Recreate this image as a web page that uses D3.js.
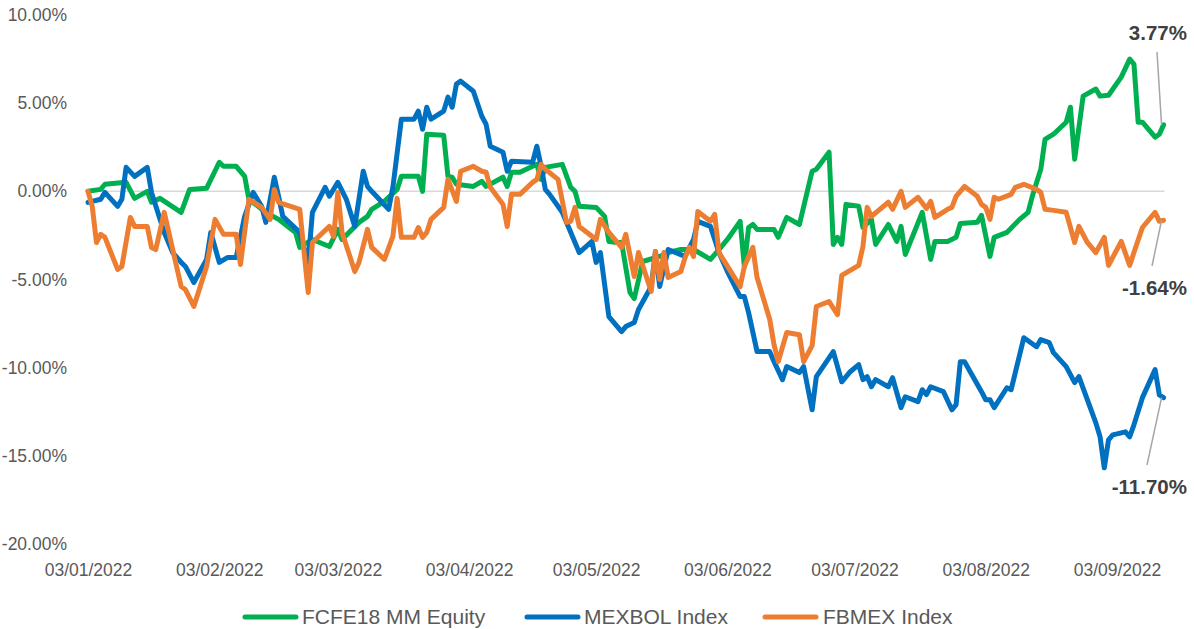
<!DOCTYPE html>
<html>
<head>
<meta charset="utf-8">
<script src="https://cdn.jsdelivr.net/npm/d3@7"></script>
<style>
  html, body { margin: 0; padding: 0; background: #fff; }
  svg { display: block; }
  text { font-family: "Liberation Sans", Arial, sans-serif; }
</style>
</head>
<body>
<svg id="chart" width="1194" height="629"></svg>
<script>
// ---------- DATA (values in %) ----------
const seriesNames = ["FCFE18 MM Equity", "MEXBOL Index", "FBMEX Index"];
const seriesColors = ["#00B050", "#0070C0", "#ED7D31"];
const xTickLabels = ["03/01/2022","03/02/2022","03/03/2022","03/04/2022","03/05/2022","03/06/2022","03/07/2022","03/08/2022","03/09/2022"];
const yTickValues = [10, 5, 0, -5, -10, -15, -20];
const endLabels = ["3.77%", "-11.70%", "-1.64%"];

const fcfeDates = ["01-03","01-06","01-07","01-12","01-14","01-17","01-18","01-20","01-25","01-27","01-31","02-03","02-04","02-07","02-09","02-10","02-14","02-17","02-21","02-22","02-25","03-01","03-03","03-04","03-08","03-10","03-11","03-14","03-17","03-18","03-22","03-23","03-24","03-28","03-29","03-30","03-31","04-04","04-06","04-07","04-11","04-12","04-13","04-15","04-18","04-19","04-20","04-21","04-25","04-27","04-28","04-29","05-03","05-05","05-06","05-08","05-09","05-11","05-12","05-14","05-18","05-20","05-23","05-26","05-30","06-01","06-03","06-06","06-07","06-08","06-09","06-10","06-14","06-15","06-17","06-20","06-23","06-24","06-27","06-28","06-29","06-30","07-01","07-04","07-05","07-07","07-08","07-11","07-13","07-14","07-15","07-19","07-21","07-22","07-25","07-27","07-28","08-01","08-02","08-04","08-05","08-08","08-11","08-13","08-14","08-16","08-17","08-19","08-22","08-23","08-24","08-26","08-29","08-30","09-01","09-04","09-06","09-07","09-08","09-09","09-12","09-13","09-14"];
const fcfeValues = [0.00,0.11,0.40,0.51,-0.40,0.00,-0.62,-0.40,-1.19,0.11,0.17,1.65,1.42,1.42,0.85,-0.45,-1.19,-1.59,-2.33,-3.18,-2.73,-3.13,-2.16,-2.73,-1.76,-1.42,-1.02,-0.57,0.11,0.85,0.85,0.00,3.24,3.18,0.85,0.80,0.40,0.28,0.57,0.28,0.80,0.28,1.08,1.08,1.42,1.53,0.68,1.36,1.53,0.23,0.00,-0.85,-0.91,-1.42,-2.84,-2.90,-2.90,-5.74,-6.08,-3.98,-3.69,-3.47,-3.30,-3.30,-3.86,-3.30,-2.73,-1.70,-4.26,-2.05,-1.88,-2.16,-2.16,-2.61,-1.48,-1.88,1.14,1.25,2.22,-3.01,-2.61,-3.01,-0.74,-0.85,-2.05,-1.59,-3.01,-1.88,-2.84,-1.99,-3.58,-1.19,-3.86,-2.84,-2.84,-2.61,-1.82,-1.76,-1.36,-3.69,-2.61,-2.33,-1.59,-1.19,-0.28,1.25,2.95,3.24,3.92,4.77,1.82,5.40,5.80,5.40,5.45,6.48,7.50,7.22,3.92,3.92,3.07,3.24,3.77];

const mexbolDates = ["01-03","01-06","01-07","01-10","01-11","01-12","01-14","01-17","01-18","01-21","01-23","01-25","01-26","01-28","01-31","02-01","02-03","02-05","02-07","02-09","02-11","02-13","02-14","02-16","02-17","02-18","02-22","02-24","02-25","02-28","03-01","03-03","03-05","03-07","03-09","03-10","03-11","03-15","03-16","03-18","03-21","03-22","03-23","03-24","03-25","03-28","03-29","03-30","03-31","04-01","04-04","04-06","04-07","04-08","04-11","04-12","04-13","04-18","04-19","04-20","04-21","04-22","04-25","04-29","05-02","05-03","05-04","05-06","05-09","05-10","05-12","05-13","05-16","05-17","05-18","05-20","05-24","05-26","05-27","05-30","06-01","06-03","06-06","06-07","06-08","06-10","06-13","06-14","06-16","06-17","06-20","06-21","06-23","06-24","06-28","06-30","07-02","07-04","07-05","07-06","07-07","07-08","07-11","07-12","07-14","07-15","07-18","07-19","07-20","07-21","07-24","07-26","07-27","07-28","07-29","08-02","08-03","08-04","08-05","08-08","08-09","08-12","08-15","08-16","08-18","08-19","08-22","08-24","08-25","08-29","08-30","08-31","09-01","09-02","09-05","09-06","09-07","09-09","09-12","09-13","09-14"];
const mexbolValues = [-0.63,-0.45,-0.06,-0.85,-0.45,1.36,0.85,1.36,-0.06,-2.33,-3.47,-4.03,-4.26,-5.17,-3.86,-2.33,-4.03,-3.75,-3.75,-1.42,-0.06,-0.85,-1.76,0.80,-0.28,-1.42,-2.33,-4.03,-1.19,0.23,-0.28,0.51,-0.45,-1.99,1.14,0.28,0.00,-1.02,0.23,4.09,4.09,4.55,3.52,4.77,4.09,4.55,5.34,4.77,6.08,6.25,5.68,4.26,3.81,2.56,2.22,1.14,1.70,1.65,2.56,1.42,0.11,-0.17,-1.19,-3.47,-2.84,-4.03,-3.47,-7.10,-7.95,-7.67,-7.44,-6.70,-5.40,-3.41,-5.40,-3.30,-3.69,-2.73,-1.70,-1.99,-3.47,-4.55,-5.97,-5.97,-6.88,-9.09,-9.09,-9.66,-10.68,-9.94,-10.28,-9.94,-12.39,-10.51,-9.09,-10.80,-10.23,-9.83,-10.68,-10.51,-11.08,-10.68,-11.08,-10.57,-12.27,-11.65,-11.93,-11.25,-11.53,-11.08,-11.36,-12.39,-12.10,-9.66,-9.66,-11.36,-11.82,-11.82,-12.27,-11.14,-11.25,-8.30,-8.81,-8.41,-8.58,-9.15,-9.94,-10.85,-10.51,-13.13,-13.92,-15.68,-14.09,-13.81,-13.64,-13.92,-13.24,-11.70,-10.11,-11.55,-11.70];

const fbmexDates = ["01-03","01-04","01-05","01-06","01-07","01-10","01-11","01-13","01-14","01-17","01-18","01-19","01-21","01-25","01-26","01-28","01-31","02-02","02-04","02-07","02-08","02-10","02-13","02-15","02-16","02-17","02-22","02-24","02-25","03-01","03-02","03-03","03-04","03-07","03-08","03-10","03-11","03-14","03-16","03-17","03-18","03-21","03-22","03-23","03-24","03-25","03-28","03-29","03-31","04-01","04-04","04-06","04-07","04-08","04-11","04-12","04-13","04-15","04-18","04-19","04-20","04-21","04-24","04-26","04-27","04-28","04-29","05-03","05-04","05-06","05-09","05-10","05-12","05-13","05-16","05-17","05-18","05-19","05-20","05-23","05-24","05-25","05-26","05-27","05-30","05-31","06-01","06-02","06-06","06-07","06-09","06-10","06-13","06-14","06-15","06-17","06-20","06-21","06-23","06-24","06-27","06-29","06-30","07-04","07-05","07-06","07-07","07-11","07-12","07-14","07-15","07-18","07-20","07-21","07-22","07-25","07-26","07-27","07-29","08-01","08-02","08-03","08-04","08-05","08-06","08-09","08-10","08-12","08-15","08-16","08-17","08-19","08-22","08-24","08-25","08-27","08-29","08-31","09-01","09-04","09-06","09-07","09-09","09-12","09-13","09-14"];
const fbmexValues = [0.00,-0.85,-2.90,-2.44,-2.61,-4.43,-4.26,-1.48,-1.99,-1.99,-3.18,-3.30,-1.19,-5.40,-5.57,-6.53,-4.26,-1.59,-2.44,-2.44,-4.15,-0.45,-0.91,-1.59,0.11,-0.62,-1.02,-5.74,-2.90,-1.99,-2.56,-0.06,-2.33,-4.55,-4.03,-2.16,-3.18,-3.86,-2.56,-0.40,-2.61,-2.61,-2.05,-2.61,-2.33,-1.59,-0.91,0.68,-0.57,1.14,1.42,1.14,1.08,0.23,-0.74,-1.99,-0.17,-0.17,0.51,0.68,1.53,1.25,0.68,-1.76,-1.70,-0.91,-1.99,-2.73,-1.59,-2.33,-3.18,-2.44,-4.83,-3.47,-5.68,-3.41,-5.00,-3.47,-4.89,-4.55,-3.75,-3.18,-3.69,-1.14,-1.70,-1.31,-3.47,-3.86,-5.40,-4.26,-3.18,-4.89,-7.27,-8.69,-9.66,-8.01,-8.13,-9.66,-8.75,-6.53,-6.25,-6.99,-4.77,-4.20,-3.13,-0.91,-1.42,-0.62,-1.02,0.00,-0.91,-0.34,-0.97,-0.57,-1.48,-1.02,-0.91,-0.28,0.28,-0.28,-0.74,-0.91,-1.59,-0.34,-0.45,-0.17,0.23,0.40,0.11,-0.06,-1.02,-1.08,-1.19,-2.90,-1.99,-2.90,-3.47,-2.61,-4.20,-2.84,-4.20,-3.47,-2.05,-1.19,-1.70,-1.64];

// ---------- CHART ----------
const parse = d3.timeParse("%Y-%m-%d");
const toDate = s => parse("2022-" + s);
const build = (dates, vals) => dates.map((d, i) => ({ date: toDate(d), value: vals[i] }));
const series = [
  build(fcfeDates, fcfeValues),
  build(mexbolDates, mexbolValues),
  build(fbmexDates, fbmexValues)
];

const svg = d3.select("#chart");
const x = d3.scaleTime()
  .domain([toDate("01-03"), toDate("09-03")])
  .range([88, 1117]);
const y = d3.scaleLinear().domain([-20, 10]).range([544, 15]);

const tickDates = xTickLabels.map(s => d3.timeParse("%d/%m/%Y")(s));
const lastDate = series[0][series[0].length - 1].date;

// zero gridline
svg.append("line")
  .attr("x1", x(toDate("01-03")) - 2).attr("x2", x(lastDate) + 1)
  .attr("y1", y(0)).attr("y2", y(0))
  .attr("stroke", "#D9D9D9").attr("stroke-width", 1.5);

// y axis (labels only)
const yAxis = d3.axisLeft(y).tickValues(yTickValues)
  .tickFormat(d => d3.format(".2f")(d) + "%").tickSize(0).tickPadding(0);
const yg = svg.append("g").attr("transform", "translate(67,0)").call(yAxis);
yg.select(".domain").remove();
yg.selectAll("text").attr("font-size", 17.5).attr("fill", "#595959")
  .attr("font-family", "'Liberation Sans', Arial, sans-serif")
  .text(d => (d < 0 ? "-" : "") + d3.format(".2f")(Math.abs(d)) + "%");

// x axis (labels only)
const xAxis = d3.axisBottom(x).tickValues(tickDates)
  .tickFormat((d, i) => xTickLabels[i]).tickSize(0).tickPadding(0);
const xg = svg.append("g").attr("transform", "translate(0,564)").call(xAxis);
xg.select(".domain").remove();
xg.selectAll("text").attr("font-size", 17.5).attr("fill", "#595959")
  .attr("font-family", "'Liberation Sans', Arial, sans-serif");

// lines
const line = d3.line().x(d => x(d.date)).y(d => y(d.value));
series.forEach((s, i) => {
  svg.append("path").datum(s)
    .attr("fill", "none")
    .attr("stroke", seriesColors[i])
    .attr("stroke-width", 5)
    .attr("stroke-linejoin", "round")
    .attr("stroke-linecap", "round")
    .attr("d", line);
});

// end labels with leader lines
const labelSpecs = [
  { s: 0, lx: 1157, ly: 52, tx: 1187, ty: 40 },
  { s: 1, lx: 1147, ly: 465, tx: 1187, ty: 494 },
  { s: 2, lx: 1152, ly: 266, tx: 1187, ty: 295 }
];
labelSpecs.forEach(p => {
  const last = series[p.s][series[p.s].length - 1];
  svg.append("line")
    .attr("x1", p.lx).attr("y1", p.ly)
    .attr("x2", x(last.date) - 2).attr("y2", y(last.value))
    .attr("stroke", "#A6A6A6").attr("stroke-width", 1.5);
  svg.append("text")
    .attr("x", p.tx).attr("y", p.ty)
    .attr("text-anchor", "end")
    .attr("font-size", 20.5).attr("font-weight", "bold")
    .attr("fill", "#404040")
    .text(endLabels[p.s]);
});

// legend
const legendItems = [
  { x: 243, tx: 302 },
  { x: 525, tx: 584 },
  { x: 763, tx: 823 }
];
legendItems.forEach((it, i) => {
  svg.append("line")
    .attr("x1", it.x + 2).attr("x2", it.x + 53)
    .attr("y1", 617).attr("y2", 617)
    .attr("stroke", seriesColors[i]).attr("stroke-width", 5)
    .attr("stroke-linecap", "round");
  svg.append("text")
    .attr("x", it.tx).attr("y", 624)
    .attr("font-size", 21).attr("fill", "#595959")
    .text(seriesNames[i]);
});
</script>
</body>
</html>
